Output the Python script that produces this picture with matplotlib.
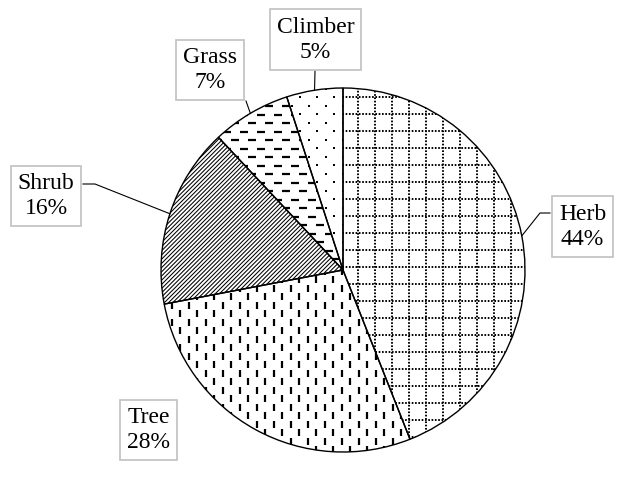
import numpy as np
import matplotlib.pyplot as plt
from matplotlib.collections import LineCollection

plt.rcParams['font.family'] = ['Liberation Serif', 'DejaVu Serif']

# growth forms and their share of species (%)
labels = ['Herb', 'Tree', 'Shrub', 'Grass', 'Climber']
shares = [44, 28, 16, 7, 5]

# callout box centres and leader bends, in pixels (y grows downwards)
box_xy = [(582.5, 226.5), (148.5, 430), (46, 196), (210, 70), (315.5, 39.5)]
bends = [[(540, 213), (550, 213)], None, [(95, 184), (83, 184)], [(246, 101)], [(315, 71)]]

cx, cy, r = 343, 270, 182
step = 17.0

fig = plt.figure(figsize=(6.25, 4.79), dpi=100)
ax = fig.add_axes([0, 0, 1, 1])
# y axis is flipped below, so counterclock in data runs clockwise on screen
wedges, _ = ax.pie(shares, center=(cx, cy), radius=r, startangle=-90,
                   counterclock=True, frame=True,
                   wedgeprops=dict(facecolor='none', edgecolor='black',
                                   linewidth=1.0, zorder=3))
ax.set_xlim(0, 625)
ax.set_ylim(479, 0)
ax.set_aspect('equal')
ax.axis('off')

x_lo, x_hi = cx - r - step, cx + r + step
y_lo, y_hi = cy - r - step, cy + r + step


def add_lines(segs, wedge, lw, ls='solid'):
    lc = LineCollection(segs, colors='black', linewidths=lw, linestyles=ls, zorder=2)
    ax.add_collection(lc)
    lc.set_clip_path(wedge)


# Herb: dotted square grid
xs = np.arange(358.3 - 12 * step, x_hi, step)
ys = np.arange(97.3 - 2 * step, y_hi, step)
segs = [[(x, y_lo), (x, y_hi)] for x in xs] + [[(x_lo, y), (x_hi, y)] for y in ys]
add_lines(segs, wedges[0], 1.4, (0, (0.85, 0.85)))

# Tree: staggered vertical dashes
segs = []
for k, x in enumerate(np.arange(180 - 10 * step, x_hi, step / 2)):
    y0 = 310 if k % 2 == 0 else 310 - step / 2
    for y in np.arange(y0 - 20 * step, y_hi, step):
        segs.append([(x, y), (x, y + 7)])
add_lines(segs, wedges[1], 1.6)

# Shrub: dense diagonal lines
segs = []
for c in np.arange(x_lo + y_lo, x_hi + y_hi, 4.2):
    segs.append([(x_lo, c - x_lo), (x_hi, c - x_hi)])
add_lines(segs, wedges[2], 0.75)

# Grass: staggered horizontal dashes
segs = []
for k, y in enumerate(np.arange(123.3 - 4 * step, y_hi, step / 2)):
    x0 = 248 if k % 2 == 0 else 248 - step / 2
    for x in np.arange(x0 - 20 * step, x_hi, step):
        segs.append([(x, y), (x + 8, y)])
add_lines(segs, wedges[3], 1.6)

# Climber: staggered dots
px, py = [], []
for k, y in enumerate(np.arange(97 - 4 * step, y_hi, step / 2)):
    x0 = 300 if k % 2 == 0 else 300 - step / 2
    for x in np.arange(x0 - 20 * step, x_hi, step):
        px.append(x)
        py.append(y)
dots = ax.scatter(px, py, s=4.5, marker='s', color='black', linewidths=0, zorder=2)
dots.set_clip_path(wedges[4])

# callout boxes with leader lines
for w, lab, s, (bx, by), bend in zip(wedges, labels, shares, box_xy, bends):
    if bend:
        t = np.deg2rad((w.theta1 + w.theta2) / 2)
        pts = [(cx + r * np.cos(t), cy + r * np.sin(t))] + bend
        ax.plot([p[0] for p in pts], [p[1] for p in pts], color='black', lw=0.8, zorder=4)
    ax.text(bx, by, f'{lab}\n{s}%', ha='center', va='center', fontsize=17,
            linespacing=1.25, zorder=5,
            bbox=dict(boxstyle='square,pad=0.3', fc='white', ec='#c0c0c0', lw=1.2))

fig.savefig('out.png', dpi=100)
